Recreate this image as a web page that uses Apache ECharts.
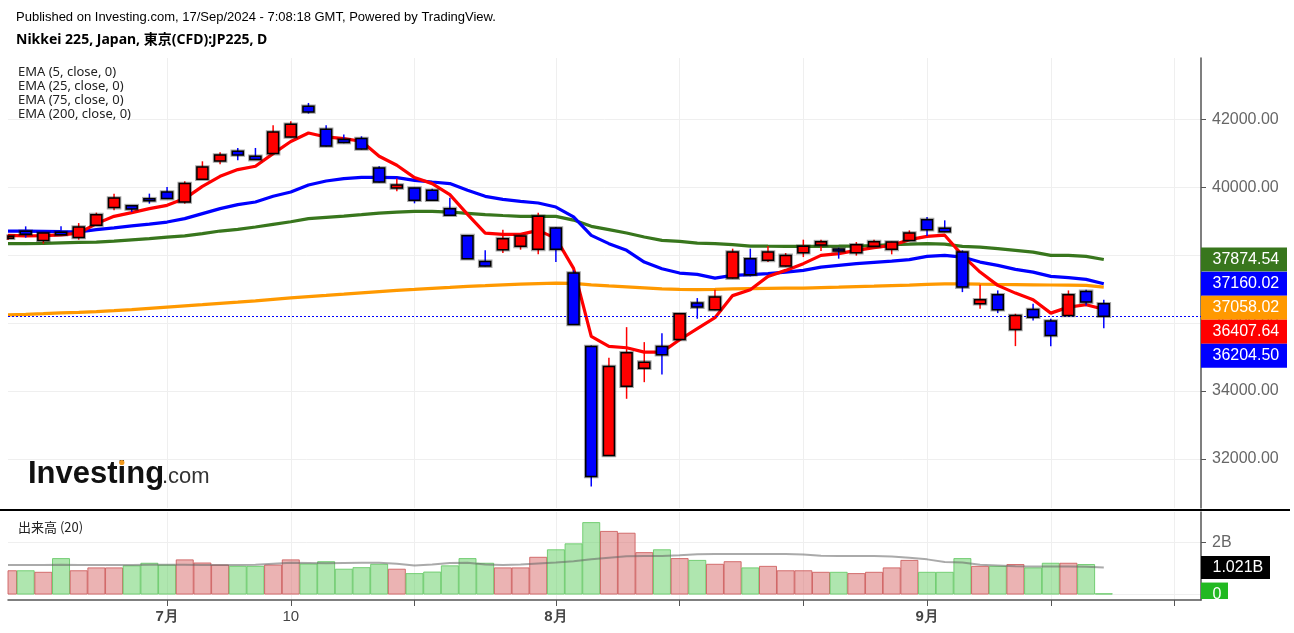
<!DOCTYPE html>
<html><head><meta charset="utf-8">
<script src="https://cdn.jsdelivr.net/npm/echarts@6/dist/echarts.min.js"></script>
<style>html,body{margin:0;padding:0;background:#fff}#c{width:1294px;height:633px}</style>
</head><body><div id="c"></div>
<script>
// ---- data ----
const dates = ['6/18','6/19','6/20','6/21','6/24','6/25','6/26','6/27','6/28',
 '7/1','7/2','7/3','7/4','7/5','7/8','7/9','7/10','7/11','7/12','7/16','7/17','7/18','7/19','7/22','7/23','7/24','7/25','7/26','7/29','7/30','7/31',
 '8/1','8/2','8/5','8/6','8/7','8/8','8/9','8/13','8/14','8/15','8/16','8/19','8/20','8/21','8/22','8/23','8/26','8/27','8/28','8/29','8/30',
 '9/2','9/3','9/4','9/5','9/6','9/9','9/10','9/11','9/12','9/13','9/17'];
const opens  = [38500,38703,38437,38673,38520,38880,39402,39460,39640,39861,39567,40236,40775,41061,40914,40993,41483,42388,41710,41405,41435,40569,39979,39979,39912,39372,38576,37818,38163,38261,38172,
 38800,37473,35313,32099,34142,34673,35313,35519,36589,36394,37326,37898,37848,37680,38075,38299,38160,38075,38261,38172,38437,
 39048,38791,38093,36571,36837,35814,36403,36059,36226,36934,36571];
const closes = [38560,38614,38653,38605,38830,39195,39685,39360,39630,39667,40109,40598,40952,40952,40816,41630,41857,42220,41218,41318,41130,40156,40068,39617,39617,39175,37898,37680,38488,38565,39145,
 38172,35961,31480,34723,35127,34850,35068,36277,36471,36766,38093,37425,38093,37995,38261,38399,38145,38310,38399,38388,38653,
 38753,38694,37061,36689,36394,36226,36176,35637,36837,36619,36204.5];
const lows   = [38450,38517,38340,38600,38458,38870,39322,39272,39519,39660,39519,40220,40678,40796,40810,40990,41470,42172,41200,41300,41110,40140,39882,39528,39600,39160,37890,37670,38063,38163,38025,
 37798,35950,31185,32090,33771,34260,34487,35510,36129,36380,37310,37376,37798,37660,37945,38122,37898,37987,38250,38025,38430,
 38565,38680,36913,36424,36294,35322,36079,35322,36220,36521,35852];
const highs  = [38600,38850,38670,38850,38947,39254,39814,39470,39814,40009,40177,40766,41032,41159,41159,41828,41946,42485,41828,41553,41503,40619,40256,39990,39961,39696,38590,38143,38753,38580,39254,
 38830,37553,35342,34979,35881,35440,35705,36290,36737,36984,38193,38193,38270,38063,38458,38458,38222,38388,38458,38400,38732,
 39124,39027,38143,37131,36963,36276,36571,36129,36963,36984,36689];
const ema5   = [38585,38570,38576,38600,38653,38930,39145,39254,39372,39469,39667,40029,40324,40522,40619,40993,41350,41601,41483,41436,41356,40914,40649,40286,40109,39785,39204,38653,38614,38614,38732,
 38497,37612,35607,35313,35274,35145,35145,35510,35835,36159,36810,36984,37376,37553,37751,37995,38045,38143,38222,38290,38458,
 38555,38590,37995,37503,37111,36884,36689,36294,36471,36542,36407.64];
const ema25  = [38712,38710,38703,38694,38688,38753,38806,38865,38918,38977,39077,39225,39372,39490,39567,39735,39861,40068,40186,40256,40295,40295,40286,40206,40156,40109,39912,39735,39646,39587,39537,
 39419,39130,38585,38340,38143,37798,37603,37474,37435,37326,37406,37426,37456,37503,37553,37650,37701,37751,37789,37827,37869,
 37966,37995,37945,37798,37701,37583,37503,37376,37338,37288,37160.02];
const ema75  = [38340,38343,38349,38364,38379,38388,38414,38452,38488,38535,38570,38635,38712,38762,38830,38909,38985,39077,39116,39154,39195,39242,39269,39293,39293,39272,39234,39195,39169,39145,39145,
 39145,39035,38850,38753,38653,38535,38437,38408,38358,38340,38311,38270,38265,38261,38261,38261,38265,38270,38285,38311,38325,
 38340,38325,38261,38240,38193,38143,38093,37995,37995,37966,37874.54];
const ema200 = [36241,36256,36277,36300,36315,36336,36365,36395,36433,36471,36507,36542,36580,36616,36654,36698,36743,36781,36816,36852,36890,36928,36964,36993,37023,37052,37082,37102,37126,37146,37164,
 37176,37170,37126,37096,37067,37037,37008,36993,36987,36993,37008,37017,37023,37029,37032,37046,37058,37073,37087,37102,37117,
 37140,37155,37155,37146,37140,37135,37129,37123,37117,37111,37058.02];
const volumesB = [0.90,0.90,0.84,1.37,0.90,1.01,1.01,1.09,1.19,1.12,1.32,1.20,1.12,1.07,1.07,1.12,1.32,1.16,1.25,0.96,1.02,1.15,0.96,0.79,0.85,1.09,1.37,1.19,1.01,1.01,1.42,
 1.71,1.94,2.76,2.42,2.35,1.60,1.71,1.37,1.30,1.15,1.25,1.01,1.07,0.90,0.90,0.84,0.84,0.79,0.84,1.01,1.30,
 0.84,0.84,1.37,1.07,1.07,1.14,1.01,1.19,1.19,1.14,0.01];
const volumeMA20B = [1.12,1.12,1.12,1.13,1.12,1.12,1.12,1.12,1.13,1.13,1.13,1.12,1.12,1.12,1.13,1.17,1.21,1.20,1.19,1.20,1.21,1.21,1.17,1.10,1.14,1.20,1.21,1.14,1.12,1.14,1.18,
 1.22,1.27,1.34,1.40,1.46,1.47,1.47,1.50,1.54,1.55,1.55,1.55,1.55,1.55,1.53,1.48,1.47,1.47,1.47,1.45,1.40,
 1.34,1.24,1.22,1.13,1.10,1.07,1.06,1.06,1.06,1.05,1.021];
const priceTicks = [32000,34000,36000,38000,40000,42000];
const xTickIndex = [9,16,23,31,38,45,52,59,66];
const xLabelText = {9:'7月',16:'10',31:'8月',52:'9月'};
const emaLegend = ['EMA (5, close, 0)','EMA (25, close, 0)','EMA (75, close, 0)','EMA (200, close, 0)'];

// ---- build ----
const idx = closes.map((_, i) => i);
const candleData = idx.map(i => [i, opens[i], closes[i], lows[i], highs[i]]);
const volData = idx.map(i => [i, volumesB[i], closes[i] >= opens[i] ? 1 : 0]);
const lineData = arr => arr.map((v, i) => [i, v]);
const UP = '#ff0000', DOWN = '#0000ff';
const FONT = '"Liberation Sans", Arial, sans-serif';

function areaOf(params) {
  const cs = params.coordSys;
  return { x: cs.x, y: cs.y, width: cs.width, height: cs.height };
}
function renderCandle(params, api) {
  const x = api.value(0), o = api.value(1), c = api.value(2), l = api.value(3), h = api.value(4);
  const pH = api.coord([x, h]), pL = api.coord([x, l]), pO = api.coord([x, o]), pC = api.coord([x, c]);
  const col = c >= o ? UP : DOWN;
  const w = 11;
  let top = Math.min(pO[1], pC[1]), bot = Math.max(pO[1], pC[1]);
  if (bot - top < 2) { const m = (top + bot) / 2; top = m - 1; bot = m + 1; }
  const area = areaOf(params);
  const body = echarts.graphic.clipRectByRect({ x: pO[0] - w / 2, y: top, width: w, height: bot - top }, area);
  const children = [];
  if (pH[0] >= area.x) children.push({ type: 'line', shape: { x1: pH[0], y1: pH[1], x2: pL[0], y2: pL[1] }, style: { stroke: col, lineWidth: 1.5 } });
  if (body) {
    children.push({ type: 'rect', shape: body, style: { fill: 'none', stroke: 'rgba(0,0,0,0.35)', lineWidth: 3.6 } });
    children.push({ type: 'rect', shape: body, style: { fill: col, stroke: '#000', lineWidth: 1.5 } });
  }
  return { type: 'group', children };
}
function renderVolume(params, api) {
  const x = api.value(0), v = api.value(1), up = api.value(2);
  const pT = api.coord([x, v]), pB = api.coord([x, 0]);
  const w = 17;
  const r = echarts.graphic.clipRectByRect({ x: pT[0] - w / 2, y: pT[1], width: w, height: pB[1] - pT[1] }, areaOf(params));
  if (!r) return null;
  return { type: 'rect', shape: r, style: {
    fill: up ? 'rgba(214,96,96,0.48)' : 'rgba(96,206,96,0.5)',
    stroke: up ? 'rgba(205,90,90,0.85)' : 'rgba(100,200,100,0.85)', lineWidth: 1 } };
}

const chart = echarts.init(document.getElementById('c'), null, { renderer: 'canvas' });
const gridL = 8, gridR = 93;
const xCommon = { type: 'value', min: 0, max: 67.5 };
const emaLine = (name, data, color) => ({ name, type: 'line', data: lineData(data), xAxisIndex: 0, yAxisIndex: 0,
  showSymbol: false, symbol: 'none', lineStyle: { color, width: 3.2 }, z: 3, silent: true });

chart.setOption({
  animation: false,
  backgroundColor: '#fff',
  grid: [
    { left: gridL, right: gridR, top: 58, height: 450 },
    { left: gridL, right: gridR, top: 512, height: 88 }
  ],
  xAxis: [
    Object.assign({}, xCommon, { gridIndex: 0, axisLine: { show: false, onZero: false }, axisTick: { show: false, customValues: xTickIndex },
      axisLabel: { show: false }, splitLine: { show: true, lineStyle: { color: '#efefef', width: 1 } } }),
    Object.assign({}, xCommon, { gridIndex: 1, axisLine: { show: true, onZero: false, lineStyle: { color: '#555', width: 1.5 } },
      axisTick: { show: true, customValues: xTickIndex, length: 6, lineStyle: { color: '#555' } },
      axisLabel: { customValues: [9, 16, 31, 52], margin: 9, color: '#444', fontSize: 15, fontFamily: FONT,
        formatter: v => { const t = xLabelText[Math.round(v)] || ''; return /月/.test(t) ? '{b|' + t + '}' : t; },
        rich: { b: { fontWeight: 'bold', fontSize: 15, color: '#444', fontFamily: FONT } } },
      splitLine: { show: true, lineStyle: { color: '#efefef', width: 1 } } })
  ],
  yAxis: [
    { type: 'value', gridIndex: 0, position: 'right', min: 30554, max: 43809,
      axisLine: { show: true, onZero: false, lineStyle: { color: '#555', width: 1.5 } },
      axisTick: { show: true, length: 5, customValues: priceTicks, lineStyle: { color: '#555' } },
      axisLabel: { customValues: priceTicks, margin: 11, color: '#666', fontSize: 16, fontFamily: FONT, formatter: v => v.toFixed(2) },
      splitLine: { show: true, lineStyle: { color: '#efefef', width: 1 } } },
    { type: 'value', gridIndex: 1, position: 'right', min: -0.23, max: 3.17,
      axisLine: { show: true, onZero: false, lineStyle: { color: '#555', width: 1.5 } },
      axisTick: { show: true, length: 5, customValues: [0, 2], lineStyle: { color: '#555' } },
      axisLabel: { customValues: [2], margin: 11, color: '#666', fontSize: 16, fontFamily: FONT, formatter: v => v + 'B' },
      splitLine: { show: true, lineStyle: { color: '#efefef', width: 1 } } }
  ],
  series: [
    emaLine('EMA200', ema200, '#ff9900'),
    emaLine('EMA75', ema75, '#38761d'),
    emaLine('EMA25', ema25, '#0000ff'),
    Object.assign(emaLine('EMA5', ema5, '#ff0000'), {
      markLine: { silent: true, symbol: ['none', 'none'], label: { show: false },
        lineStyle: { color: '#0000ff', type: [2, 2], width: 1 }, data: [{ yAxis: closes[closes.length - 1] }] } }),
    { name: 'JP225', type: 'custom', xAxisIndex: 0, yAxisIndex: 0, data: candleData, renderItem: renderCandle,
      encode: { x: 0, y: [1, 2, 3, 4] }, z: 5, silent: true },
    { name: '出来高', type: 'custom', xAxisIndex: 1, yAxisIndex: 1, data: volData, renderItem: renderVolume,
      encode: { x: 0, y: 1 }, z: 2, silent: true },
    { name: 'MA20', type: 'line', xAxisIndex: 1, yAxisIndex: 1, data: lineData(volumeMA20B), showSymbol: false, symbol: 'none',
      lineStyle: { color: 'rgba(100,100,100,0.55)', width: 2 }, z: 4, silent: true }
  ]
});

// ---- price / volume tags on the right axis ----
const axisX = chart.convertToPixel({ xAxisIndex: 0 }, 67.5);
const tagDefs = [
  { v: ema75[ema75.length - 1], c: '#38761d' },
  { v: ema25[ema25.length - 1], c: '#0000ff' },
  { v: ema200[ema200.length - 1], c: '#ff9900' },
  { v: ema5[ema5.length - 1], c: '#ff0000' },
  { v: closes[closes.length - 1], c: '#0000ff' }
].map(t => Object.assign(t, { y: chart.convertToPixel({ yAxisIndex: 0 }, t.v) })).sort((a, b) => a.y - b.y);
const TH = 24;
let prevBottom = -1e9;
const graphics = [];
tagDefs.forEach(t => {
  let top = t.y - TH / 2;
  if (top < prevBottom) top = prevBottom;
  prevBottom = top + TH;
  graphics.push({ type: 'rect', shape: { x: axisX, y: top, width: 86, height: TH }, style: { fill: t.c }, z: 100 });
  graphics.push({ type: 'text', x: axisX + 11.5, y: top + TH / 2, style: { text: t.v.toFixed(2), fill: '#fff', font: '16px ' + FONT, verticalAlign: 'middle' }, z: 101 });
});
const maLast = volumeMA20B[volumeMA20B.length - 1];
const yMA = chart.convertToPixel({ yAxisIndex: 1 }, maLast);
graphics.push({ type: 'rect', shape: { x: axisX, y: yMA - 11.5, width: 69, height: 23 }, style: { fill: '#000' }, z: 100 });
graphics.push({ type: 'text', x: axisX + 11.5, y: yMA, style: { text: maLast.toFixed(3) + 'B', fill: '#fff', font: '16px ' + FONT, verticalAlign: 'middle' }, z: 101 });
const y0 = chart.convertToPixel({ yAxisIndex: 1 }, 0);
graphics.push({ type: 'rect', shape: { x: axisX, y: y0 - 11.5, width: 27, height: 599 - (y0 - 11.5) }, style: { fill: '#22b922' }, z: 100 });
graphics.push({ type: 'text', x: axisX + 11.5, y: y0 + 1, style: { text: String(Math.round(volumesB[volumesB.length - 1])), fill: '#fff', font: '16px ' + FONT, verticalAlign: 'middle' }, z: 101 });

// ---- texts ----
graphics.push({ type: 'text', x: 16, y: 17, style: { text: 'Published on Investing.com, 17/Sep/2024 - 7:08:18 GMT, Powered by TradingView.', fill: '#000', font: '13px ' + FONT, verticalAlign: 'middle' } });
graphics.push({ type: 'text', x: 16, y: 40, style: { text: 'Nikkei 225, Japan, 東京(CFD):JP225, D', fill: '#000', font: 'bold 14px "Noto Sans", "Noto Sans CJK JP", sans-serif', verticalAlign: 'middle' } });
emaLegend.forEach((t, k) => graphics.push({ type: 'text', x: 18, y: 72 + 14 * k, style: { text: t, fill: '#222', font: '13px "Noto Sans", sans-serif', verticalAlign: 'middle' }, z: 50 }));
graphics.push({ type: 'text', x: 18, y: 527, style: { text: '出来高 (20)', fill: '#222', font: '13px "Noto Sans CJK JP", sans-serif', verticalAlign: 'middle' }, z: 50 });
graphics.push({ type: 'text', x: 28, y: 474, style: { text: 'Investing', fill: '#111', font: 'bold 31px ' + FONT, verticalAlign: 'middle' }, z: 50 });
graphics.push({ type: 'circle', shape: { cx: 121.8, cy: 462.5, r: 2.6 }, style: { fill: '#f39a1e' }, z: 51 });
graphics.push({ type: 'text', x: 162, y: 477, style: { text: '.com', fill: '#333', font: '22px ' + FONT, verticalAlign: 'middle' }, z: 50 });
// pane separator
graphics.push({ type: 'line', shape: { x1: 0, y1: 510, x2: 1290, y2: 510 }, style: { stroke: '#000', lineWidth: 2 }, z: 60 });

chart.setOption({ graphic: graphics });
</script></body></html>
